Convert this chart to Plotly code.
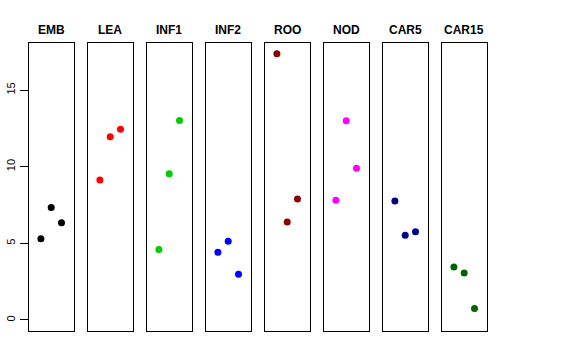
import plotly.graph_objects as go

groups = ["EMB", "LEA", "INF1", "INF2", "ROO", "NOD", "CAR5", "CAR15"]
colors = ["black", "red", "#00CD00", "blue", "#8B0000", "magenta", "#00008B", "#006400"]
values = [
    [5.30, 7.33, 6.35],
    [9.13, 11.96, 12.44],
    [4.59, 9.54, 13.02],
    [4.41, 5.13, 2.98],
    [17.37, 6.39, 7.89],
    [7.81, 13.00, 9.89],
    [7.76, 5.52, 5.76],
    [3.46, 3.07, 0.74],
]
positions = [1, 2, 3]
yticks = [0, 5, 10, 15]

W, H = 576, 360
left0, step, pw = 28.7, 59.0, 45.0
ytop, ybot = 43.3, 331.0

fig = go.Figure()
layout = dict(
    width=W, height=H,
    margin=dict(l=0, r=0, t=0, b=0, autoexpand=False),
    paper_bgcolor="white", plot_bgcolor="white",
    showlegend=False,
    font=dict(family="Liberation Sans, Arial, sans-serif", color="black"),
)
annotations = []
for i, (g, c, v) in enumerate(zip(groups, colors, values)):
    sfx = "" if i == 0 else str(i + 1)
    fig.add_trace(go.Scatter(
        x=positions, y=v, mode="markers",
        marker=dict(color=c, size=7, line=dict(width=0)),
        xaxis="x" + sfx, yaxis="y" + sfx,
    ))
    x0 = (left0 + step * i) / W
    x1 = (left0 + step * i + pw) / W
    layout["xaxis" + sfx] = dict(
        domain=[x0, x1], range=[-0.185, 4.185], showgrid=False, zeroline=False,
        showticklabels=False, ticks="", showline=True, mirror=True,
        linecolor="black", linewidth=1, anchor="y" + sfx, fixedrange=True,
        automargin=False,
    )
    ya = dict(
        domain=[(H - ybot) / H, (H - ytop) / H], range=[-0.72, 18.05],
        showgrid=False, zeroline=False, showline=True, mirror=True,
        linecolor="black", linewidth=1, anchor="x" + sfx, automargin=False,
    )
    if i == 0:
        ya.update(tickmode="array", tickvals=yticks, ticktext=[str(t) for t in yticks],
                  ticks="outside", ticklen=8, tickcolor="black", tickangle=-90,
                  tickfont=dict(size=11, color="black"))
    else:
        ya.update(showticklabels=False, ticks="")
    layout["yaxis" + sfx] = ya
    annotations.append(dict(
        x=(x0 + x1) / 2, y=(H - 30) / H, xref="paper", yref="paper",
        text="<b>%s</b>" % g, showarrow=False, xanchor="center", yanchor="middle",
        font=dict(size=12, color="black"),
    ))
layout["annotations"] = annotations
fig.update_layout(**layout)
fig.write_html("out.html", config={"displayModeBar": False},
               post_script="document.body.style.margin='0';")
